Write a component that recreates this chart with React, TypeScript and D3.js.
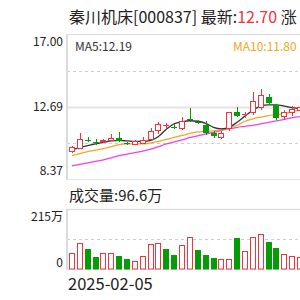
import React, { useEffect, useRef } from 'react';
import * as d3 from 'd3';

// K-line values (one per trading day, left to right)
const opens = [10.01, 10.19, 10.73, 10.61, 10.56, 10.66, 10.84, 10.53, 10.43, 10.48, 10.68, 11.24, 11.57, 11.5, 11.39, 11.96, 11.79, 11.59, 11.12, 10.84, 11.35, 12.36, 12.22, 12.32, 12.6, 13.31, 12.79, 12.08, 12.3, 12.44];
const closes = [10.31, 10.74, 10.7, 10.58, 10.72, 10.84, 10.64, 10.51, 10.64, 10.72, 11.22, 11.65, 11.6, 11.48, 11.85, 11.93, 11.76, 11.12, 10.92, 11.15, 12.36, 12.17, 12.25, 13.05, 13.43, 12.95, 12.0, 12.38, 12.58, 12.71];
const highs = [10.37, 11.1, 10.86, 10.74, 10.76, 11.04, 11.21, 10.6, 10.68, 10.88, 11.4, 11.79, 11.73, 11.65, 12.09, 12.62, 11.89, 11.85, 11.24, 11.24, 12.41, 12.68, 12.4, 13.6, 13.74, 13.49, 12.87, 12.5, 12.74, 12.85];
const lows = [9.95, 10.17, 10.56, 10.43, 10.54, 10.62, 10.6, 10.43, 10.4, 10.45, 10.65, 11.08, 11.39, 11.35, 11.29, 11.79, 11.65, 10.98, 10.82, 10.78, 11.26, 12.08, 12.02, 12.21, 12.5, 12.78, 11.89, 11.89, 12.14, 12.4];
const ma5 = [10.13, 10.25, 10.37, 10.47, 10.56, 10.65, 10.68, 10.65, 10.62, 10.62, 10.68, 10.92, 11.35, 11.68, 11.8, 11.86, 11.83, 11.71, 11.47, 11.38, 11.47, 11.77, 12.14, 12.5, 12.74, 12.81, 12.81, 12.74, 12.65, 12.59];
const ma10 = [9.77, 9.89, 10.01, 10.1, 10.19, 10.31, 10.43, 10.47, 10.47, 10.47, 10.53, 10.62, 10.74, 10.86, 10.98, 11.1, 11.19, 11.22, 11.26, 11.32, 11.41, 11.59, 11.83, 11.98, 12.08, 12.17, 12.23, 12.29, 12.41, 12.5];
const ma20 = [9.16, 9.25, 9.34, 9.43, 9.52, 9.64, 9.77, 9.86, 9.95, 10.04, 10.16, 10.31, 10.47, 10.59, 10.71, 10.86, 10.95, 11.07, 11.16, 11.29, 11.38, 11.47, 11.53, 11.59, 11.68, 11.77, 11.86, 11.95, 12.05, 12.11];
// volume in 万
const volumes = [58, 93, 72, 44, 57, 57, 47, 36, 30, 47, 90, 93, 72, 50, 86, 116, 68, 50, 38, 35, 35, 110, 66, 114, 125, 96, 74, 54, 48, 44];

const priceTicks = [17.0, 12.69, 8.37];
const volTicks = [215, 0];
const firstDate = '2025-02-05';

const RED = '#f5333d';
const GREEN = '#079b07';
const FONT = '"Microsoft YaHei", "Noto Sans CJK SC", sans-serif';

const App: React.FC = () => {
  const svgRef = useRef<SVGSVGElement>(null);

  useEffect(() => {
    if (!svgRef.current) return;
    const svg = d3.select(svgRef.current);
    svg.selectAll('*').remove();

    const left = 67;
    const right = 305;
    const priceTop = 35, priceBottom = 179;
    const volTop = 209, volBottom = 269;
    const n = closes.length;

    const x = d3.scaleBand<number>()
      .domain(d3.range(n))
      .range([left, right])
      .paddingInner(0.24)
      .paddingOuter(0.25);
    const cx = (i: number) => Math.round(x(i)! + x.bandwidth() / 2) + 0.5;
    const bx = (i: number) => Math.round(x(i)!) + 0.5;
    const bw = Math.round(x.bandwidth()) - 1;

    const y = d3.scaleLinear().domain([priceTicks[2], priceTicks[0]]).range([priceBottom, priceTop]);
    const yv = d3.scaleLinear().domain([0, volTicks[0]]).range([volBottom, volTop]);

    // title
    const title = svg.append('text')
      .attr('x', 69).attr('y', 23)
      .style('font-family', FONT).style('font-size', '16px').attr('fill', '#222');
    title.append('tspan').text('秦川机床[000837] 最新:');
    title.append('tspan').attr('fill', RED).text('12.70');
    title.append('tspan').text(' 涨');

    // price frame + grid
    const g = svg.append('g');
    g.append('line').attr('x1', left).attr('x2', 300).attr('y1', priceTop - 0.5).attr('y2', priceTop - 0.5)
      .attr('stroke', '#dcdcdc');
    g.append('line').attr('x1', left).attr('x2', 300).attr('y1', priceBottom + 0.5).attr('y2', priceBottom + 0.5)
      .attr('stroke', '#e6e6e6');
    const yq = [0.25, 0.5, 0.75].map(t => priceTop + (priceBottom - priceTop) * t);
    yq.forEach((yy, k) => {
      g.append('line').attr('x1', left).attr('x2', 300)
        .attr('y1', Math.round(yy) + 0.5).attr('y2', Math.round(yy) + 0.5)
        .attr('stroke', k === 1 ? '#e4e4e4' : '#cfcfcf')
        .attr('stroke-width', k === 1 ? 2 : 1)
        .attr('stroke-dasharray', k === 1 ? null : '3,3');
    });
    g.append('line').attr('x1', left).attr('x2', left).attr('y1', priceTop - 1).attr('y2', priceBottom + 1)
      .attr('stroke', '#dcdcdc').attr('stroke-width', 2);

    // price labels
    const lab = svg.append('g').style('font-family', FONT).style('font-size', '12px').attr('fill', '#222')
      .attr('text-anchor', 'end');
    lab.append('text').attr('x', 63).attr('y', y(priceTicks[0]) + 11).text(priceTicks[0].toFixed(2));
    lab.append('text').attr('x', 63).attr('y', y(priceTicks[1]) + 4).text(priceTicks[1].toFixed(2));
    lab.append('text').attr('x', 63).attr('y', y(priceTicks[2]) - 4).text(priceTicks[2].toFixed(2));

    // MA legends
    svg.append('text').attr('x', 75).attr('y', 51)
      .style('font-family', FONT).style('font-size', '12px').attr('fill', '#333')
      .text('MA5:12.19');
    svg.append('text').attr('x', 233).attr('y', 51)
      .style('font-family', FONT).style('font-size', '12px').attr('fill', '#f5a623')
      .text('MA10:11.80');

    // MA lines
    const line = (arr: number[]) => d3.line<number>()
      .x((_, i) => x(i)! + x.bandwidth() / 2)
      .y(d => y(d))
      .curve(d3.curveMonotoneX)(arr);
    const maG = svg.append('g').attr('fill', 'none').attr('stroke-width', 1.3);
    maG.append('path').attr('d', line(ma20)).attr('stroke', '#f23ff2');
    maG.append('path').attr('d', line(ma10)).attr('stroke', '#f5a623');
    maG.append('path').attr('d', line(ma5)).attr('stroke', '#333');

    // candles
    const cg = svg.append('g');
    d3.range(n).forEach(i => {
      const up = closes[i] >= opens[i];
      const col = up ? RED : GREEN;
      const top = Math.round(y(Math.max(opens[i], closes[i])));
      const bot = Math.round(y(Math.min(opens[i], closes[i])));
      cg.append('line').attr('x1', cx(i)).attr('x2', cx(i))
        .attr('y1', Math.round(y(highs[i]))).attr('y2', Math.round(y(lows[i])))
        .attr('stroke', col);
      if (bot - top < 2) {
        cg.append('line').attr('x1', bx(i) - 0.5).attr('x2', bx(i) + bw + 0.5)
          .attr('y1', top + 0.5).attr('y2', top + 0.5).attr('stroke', col);
      } else {
        cg.append('rect').attr('x', bx(i)).attr('y', top + 0.5)
          .attr('width', bw).attr('height', bot - top - 1)
          .attr('fill', up ? '#fff' : col).attr('stroke', col);
      }
    });

    // volume panel
    svg.append('text').attr('x', 69).attr('y', 201)
      .style('font-family', FONT).style('font-size', '15px').attr('fill', '#222')
      .text('成交量:96.6万');
    const vg = svg.append('g');
    vg.append('line').attr('x1', left).attr('x2', 300).attr('y1', volTop + 0.5).attr('y2', volTop + 0.5)
      .attr('stroke', '#dcdcdc').attr('stroke-width', 1.5);
    vg.append('line').attr('x1', left).attr('x2', 300)
      .attr('y1', Math.round((volTop + volBottom) / 2) + 0.5).attr('y2', Math.round((volTop + volBottom) / 2) + 0.5)
      .attr('stroke', '#cfcfcf').attr('stroke-dasharray', '3,3');
    vg.append('line').attr('x1', left).attr('x2', 300).attr('y1', volBottom + 0.5).attr('y2', volBottom + 0.5)
      .attr('stroke', '#e6e6e6');
    vg.append('line').attr('x1', left).attr('x2', left).attr('y1', volTop).attr('y2', volBottom + 1)
      .attr('stroke', '#dcdcdc').attr('stroke-width', 2);

    d3.range(n).forEach(i => {
      const prev = i === 0 ? opens[0] : closes[i - 1];
      const up = closes[i] >= prev;
      const col = up ? RED : GREEN;
      const top = Math.round(yv(volumes[i]));
      vg.append('rect').attr('x', bx(i)).attr('y', top + 0.5)
        .attr('width', bw).attr('height', volBottom - top - 0.5)
        .attr('fill', up ? '#fff' : col).attr('stroke', col);
    });

    const vl = svg.append('g').style('font-family', FONT).style('font-size', '12px').attr('fill', '#222')
      .attr('text-anchor', 'end');
    vl.append('text').attr('x', 63).attr('y', volTop + 12).text(volTicks[0] + '万');
    vl.append('text').attr('x', 63).attr('y', volBottom - 2).text(String(volTicks[1]));

    svg.append('text').attr('x', 68).attr('y', 290)
      .style('font-family', FONT).style('font-size', '16.5px').attr('fill', '#222')
      .text(firstDate);
  }, []);

  return (
    <div style={{ position: 'absolute', left: 0, top: 0, width: 300, height: 300, overflow: 'hidden', background: '#fff' }}>
      <svg ref={svgRef} width={300} height={300} />
    </div>
  );
};

export default App;
